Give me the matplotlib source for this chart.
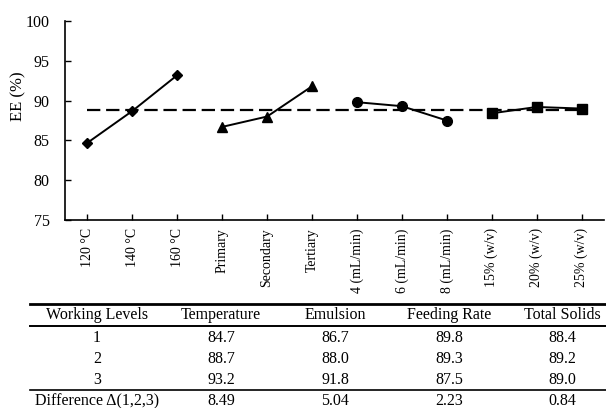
import numpy as np
import matplotlib
matplotlib.use("Agg")
import matplotlib.pyplot as plt
from matplotlib.lines import Line2D

plt.rcParams['font.family'] = ['Liberation Serif', 'DejaVu Serif']

# factors, levels and mean EE values (%)
factors = ['Temperature', 'Emulsion', 'Feeding Rate', 'Total Solids']
level_labels = ['120 °C', '140 °C', '160 °C',
                'Primary', 'Secondary', 'Tertiary',
                '4 (mL/min)', '6 (mL/min)', '8 (mL/min)',
                '15% (w/v)', '20% (w/v)', '25% (w/v)']
temperature = [84.7, 88.7, 93.2]
emulsion = [86.7, 88.0, 91.8]
feeding_rate = [89.8, 89.3, 87.5]
total_solids = [88.4, 89.2, 89.0]
difference = ['8.49', '5.04', '2.23', '0.84']
grand_mean = np.mean(temperature)

series = [temperature, emulsion, feeding_rate, total_solids]
markers = ['D', '^', 'o', 's']
msizes = [5, 6.5, 7, 6.5]

W, H = 606, 408
fig = plt.figure(figsize=(W / 100, H / 100), dpi=100)

def fx(px):
    return px / W

def fy(py):
    return 1 - py / H

ax = fig.add_axes([fx(65), fy(220), fx(604) - fx(65), fy(21) - fy(220)])

x = np.arange(1, 13)
for i, vals in enumerate(series):
    xs = x[i * 3:(i + 1) * 3]
    ax.plot(xs, vals, color='black', lw=1.4, marker=markers[i],
            ms=msizes[i], mfc='black', mec='black')

ax.plot([x[0], x[-1]], [grand_mean, grand_mean], color='black', lw=1.6,
        ls=(0, (6, 2.6)))

ax.set_xlim(0.5, 12.5)
ax.set_ylim(75, 100)
ax.set_yticks(np.arange(75, 101, 5))
ax.set_xticks(x)
ax.set_xticklabels(level_labels, rotation=90, ha='center', va='top', fontsize=10)
ax.tick_params(axis='x', direction='in', length=4, pad=6, width=1)
ax.tick_params(axis='y', direction='in', length=4, pad=11, labelsize=11.5, width=1)
ax.set_ylabel('EE (%)', fontsize=12)
ax.yaxis.set_label_coords(-0.071, 0.62)
ax.spines['top'].set_visible(False)
ax.spines['right'].set_visible(False)
ax.spines['left'].set_linewidth(1.2)
ax.spines['bottom'].set_linewidth(1.2)

# table below the chart
col_x = [97, 221, 335, 449, 562]
header = ['Working Levels'] + factors
row_y = [338, 359, 380]
fs = 11.5

for cx, txt in zip(col_x, header):
    fig.text(fx(cx), fy(315), txt, ha='center', va='center', fontsize=fs)

for r in range(3):
    fig.text(fx(col_x[0]), fy(row_y[r]), str(r + 1), ha='center', va='center', fontsize=fs)
    for c, vals in enumerate(series):
        fig.text(fx(col_x[c + 1]), fy(row_y[r]), f'{vals[r]:.1f}',
                 ha='center', va='center', fontsize=fs)

fig.text(fx(col_x[0]), fy(401), 'Difference Δ(1,2,3)', ha='center', va='center', fontsize=fs)
for c, d in enumerate(difference):
    fig.text(fx(col_x[c + 1]), fy(401), d, ha='center', va='center', fontsize=fs)

for py, lw in [(304, 2.0), (326, 1.4), (390, 1.2)]:
    fig.add_artist(Line2D([fx(30), fx(606)], [fy(py), fy(py)], color='black', lw=lw))

fig.savefig('out.png', dpi=100)
